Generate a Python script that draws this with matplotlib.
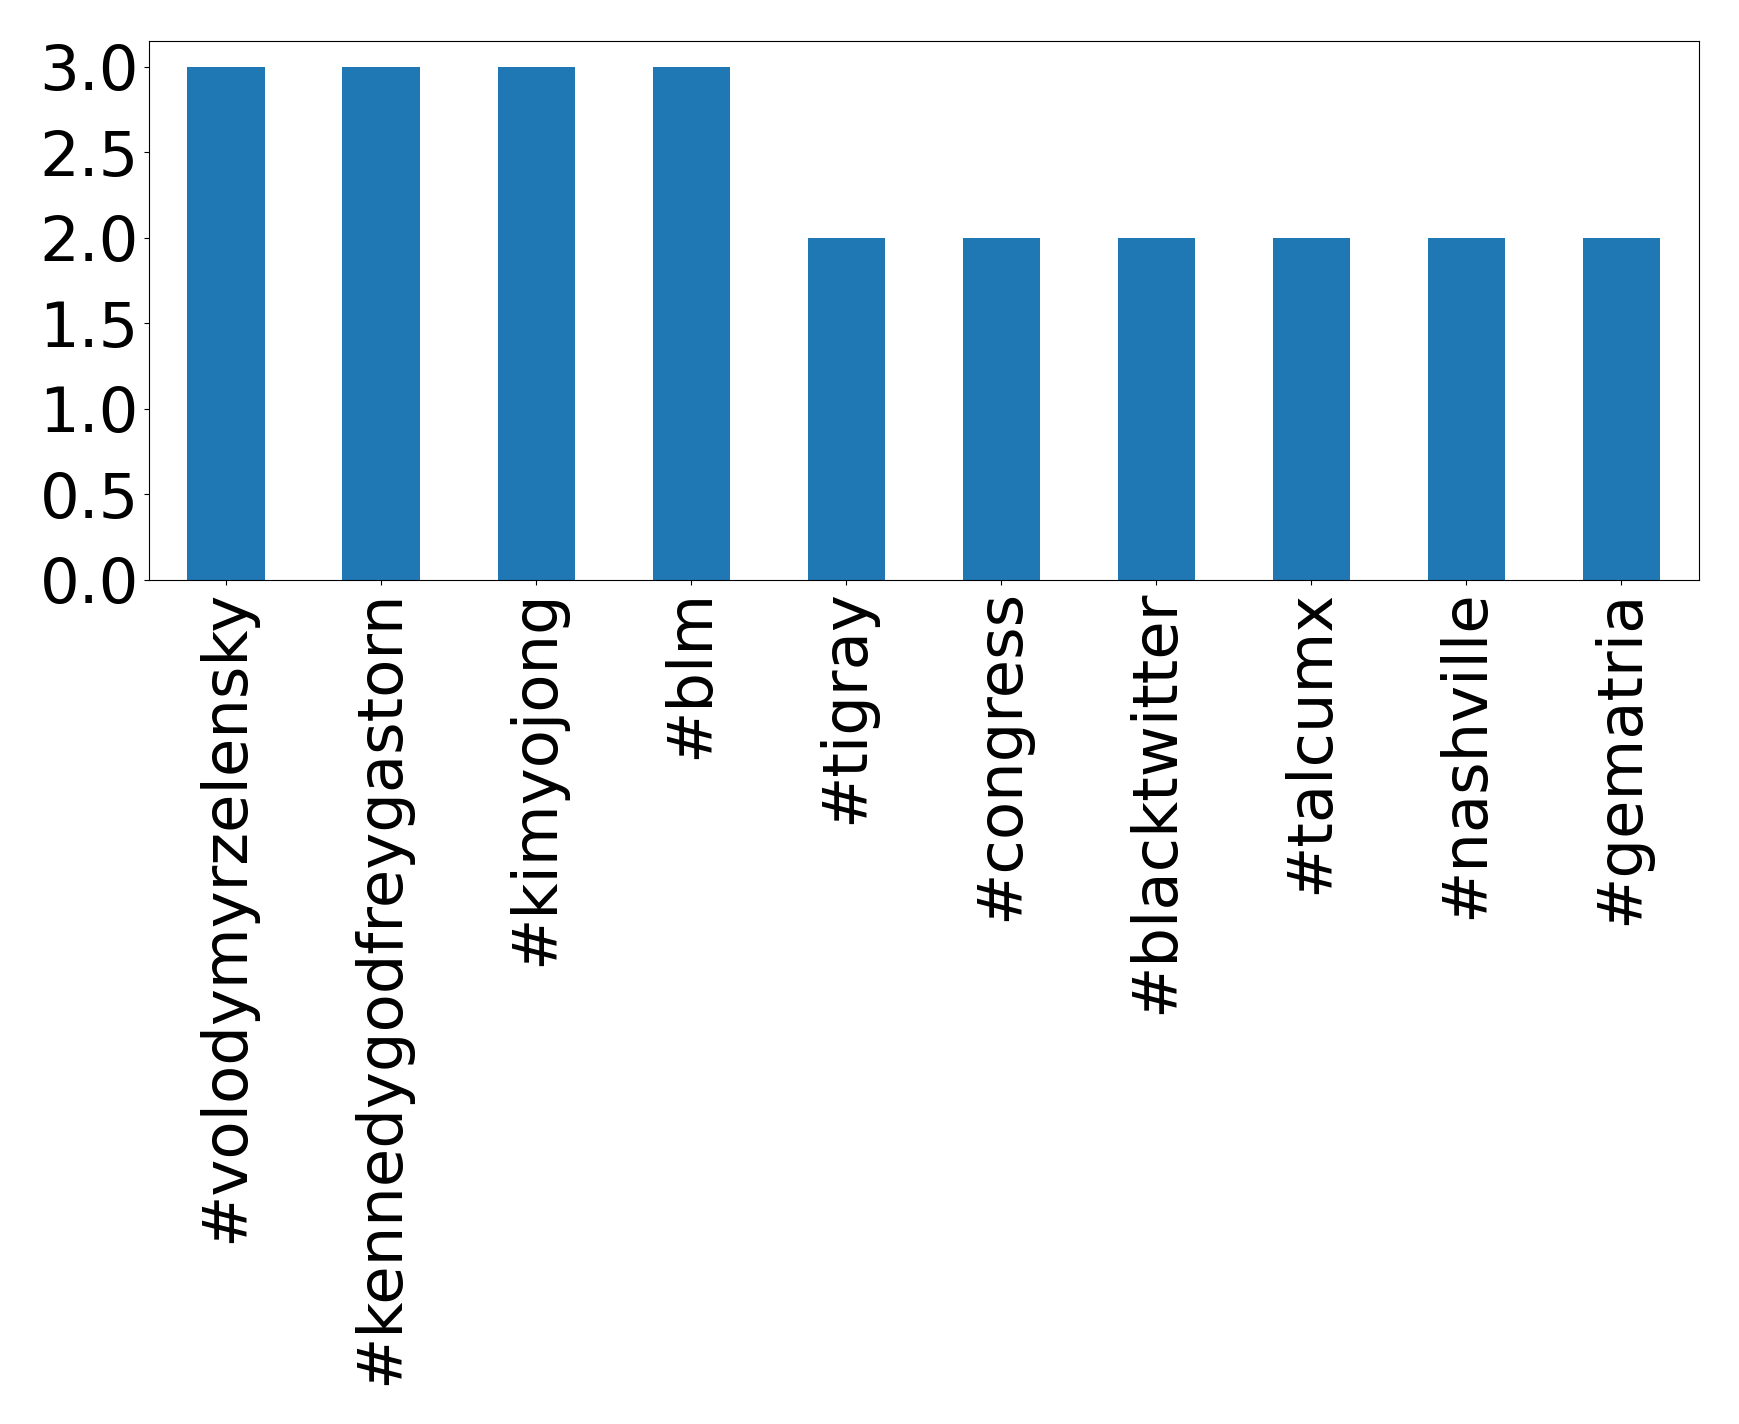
import matplotlib
matplotlib.use("Agg")
from matplotlib import pyplot as plt

# hashtag counts
tags = ["#volodymyrzelensky", "#kennedygodfreygastorn", "#kimyojong", "#blm",
        "#tigray", "#congress", "#blacktwitter", "#talcumx", "#nashville", "#gematria"]
counts = [3, 3, 3, 3, 2, 2, 2, 2, 2, 2]
yticks = [0.0, 0.5, 1.0, 1.5, 2.0, 2.5, 3.0]

fig = plt.figure(figsize=(17.39, 14.24), dpi=100)
ax = fig.add_axes([0.0855, 0.593, 0.8915, 0.378])

x = range(len(tags))
ax.bar(x, counts, width=0.5, color="#1f77b4")
ax.set_xlim(-0.5, len(tags) - 0.5)
ax.set_ylim(0, 3.15)
ax.set_xticks(list(x))
ax.set_xticklabels(tags, rotation=90, fontsize=45)
ax.set_yticks(yticks)
ax.set_yticklabels(["{:.1f}".format(v) for v in yticks], fontsize=45)

fig.savefig("out.png", dpi=100)
